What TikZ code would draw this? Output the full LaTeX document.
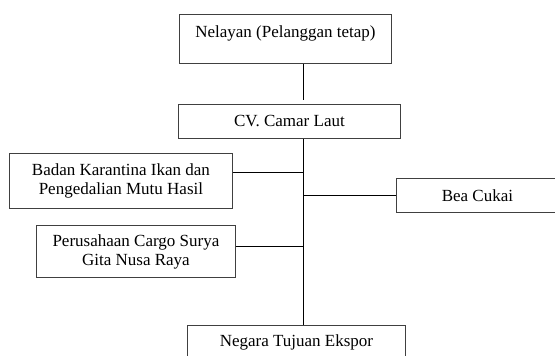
\documentclass[tikz,border=0pt]{standalone}
\usepackage{fontspec}
\setmainfont{Liberation Serif}
\usetikzlibrary{positioning}

\begin{document}
\begin{tikzpicture}[x=1pt,y=-1pt,
    box/.style={draw=black!75,line width=0.9pt,inner sep=0pt,align=center,
      anchor=north west,font=\fontsize{17}{19}\selectfont},
    link/.style={line width=0.9pt}]
  \useasboundingbox (0,0) rectangle (555,356);
  \node[box,minimum width=212pt,text height=23pt,text depth=26pt] (nelayan) at (179,14) {Nelayan (Pelanggan tetap)};
  \node[box,minimum width=222pt,minimum height=34pt] (cv) at (178,104) {CV. Camar Laut};
  \node[box,minimum width=223pt,minimum height=55pt] (karantina) at (9,153) {Badan Karantina Ikan dan\\Pengedalian Mutu Hasil};
  \node[box,minimum width=162pt,minimum height=34pt] (cukai) at (396,178) {Bea Cukai};
  \node[box,minimum width=199pt,minimum height=52pt] (cargo) at (36,225) {Perusahaan Cargo Surya\\Gita Nusa Raya};
  \node[box,minimum width=218pt,minimum height=34pt] (negara) at (187,325) {Negara Tujuan Ekspor};
  % vertical line and branch points
  \coordinate (trunk) at (303.5,0);
  \coordinate (k) at ([yshift=8.5pt]karantina.east);
  \coordinate (c) at ([yshift=5pt]cargo.east);
  \draw[link,shorten >=4pt] (nelayan.south -| trunk) -- (cv.north -| trunk);
  \draw[link] (cv.south -| trunk) -- (negara.north -| trunk);
  \draw[link] (k) -- (k -| trunk);
  \draw[link] (cukai.west) -- (cukai.west -| trunk);
  \draw[link] (c) -- (c -| trunk);
\end{tikzpicture}
\end{document}
